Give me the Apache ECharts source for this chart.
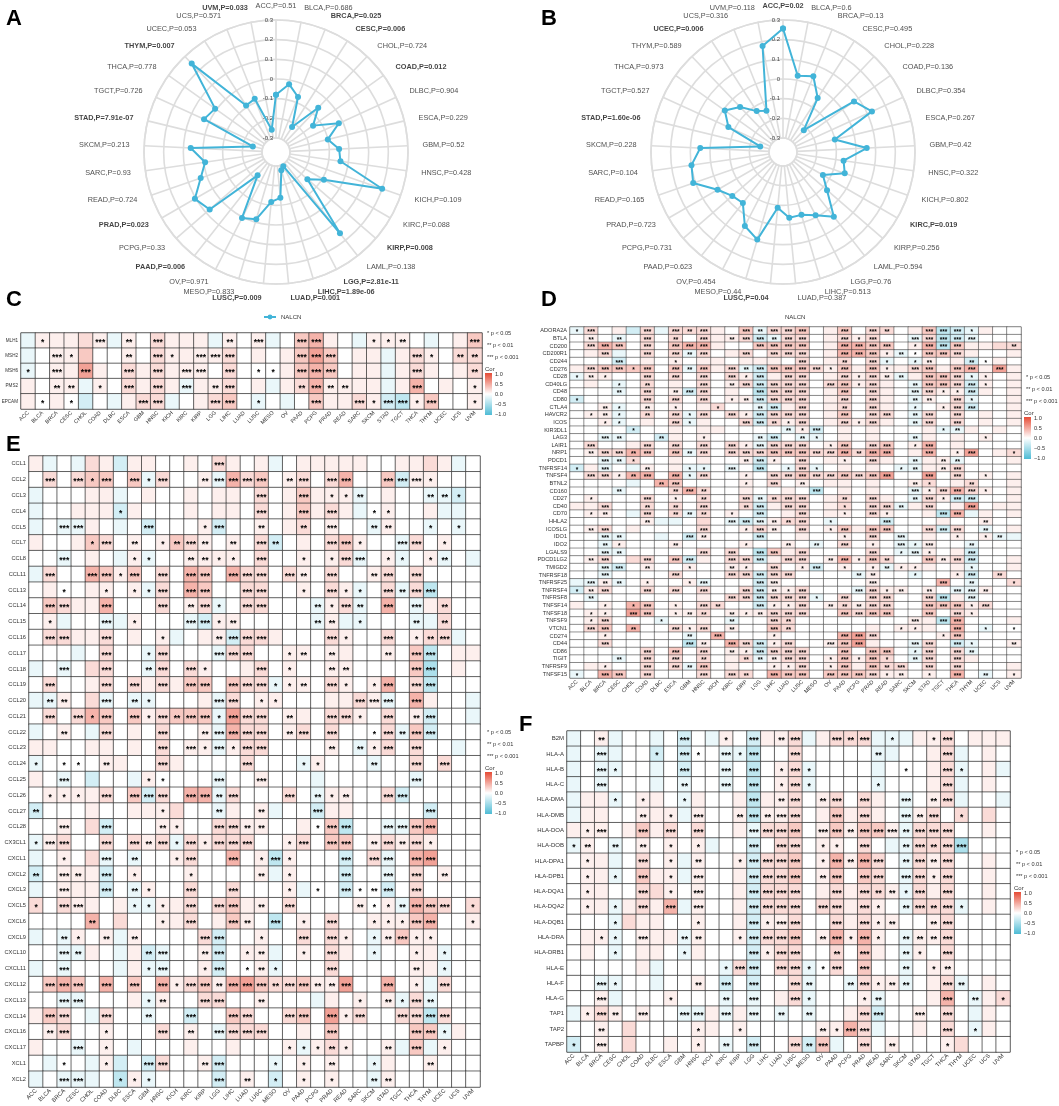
<!DOCTYPE html>
<html>
<head>
<meta charset="utf-8">
<script src="https://cdn.jsdelivr.net/npm/echarts@6/dist/echarts.min.js"></script>
<style>
html, body { margin: 0; padding: 0; background: #fff; }
#main { width: 1059px; height: 1106px; }
</style>
</head>
<body>
<div id="main"></div>
<script>
const FONT = "'Liberation Sans', Arial, sans-serif";
const LINE = '#42B4D8';

// ---- A / B : NALCN radar (33 cancer types) ----
const radarTypes = ['ACC','BLCA','BRCA','CESC','CHOL','COAD','DLBC','ESCA','GBM','HNSC','KICH','KIRC','KIRP','LAML','LGG','LIHC','LUAD','LUSC','MESO','OV','PAAD','PCPG','PRAD','READ','SARC','SKCM','STAD','TGCT','THCA','THYM','UCEC','UCS','UVM'];
const nalcnA = [-0.08,-0.02,-0.07,-0.22,-0.06,-0.14,-0.02,-0.10,-0.05,-0.04,0.20,-0.09,-0.16,0.155,-0.29,-0.275,-0.137,-0.116,-0.015,0.006,-0.22,0.075,0.105,0.034,-0.007,0.063,-0.25,0.031,0.009,0.25,-0.09,-0.08,-0.256];
const pA = ['0.51','0.686','0.025','0.006','0.724','0.012','0.904','0.229','0.52','0.428','0.109','0.088','0.008','0.138','2.81e-11','1.89e-06','0.001','0.009','0.833','0.971','0.006','0.33','0.023','0.724','0.93','0.213','7.91e-07','0.726','0.778','0.007','0.053','0.571','0.033'];
const nalcnB = [0.257,0.024,0.044,-0.045,-0.218,0.072,0.126,-0.10,0.055,-0.06,-0.039,-0.137,-0.075,0.047,-0.01,-0.038,-0.035,-0.086,0.093,0.052,-0.041,-0.03,0.013,0.112,0.099,0.05,-0.252,-0.066,-0.008,-0.055,-0.124,-0.145,0.178];
const pB = ['0.02','0.6','0.13','0.495','0.228','0.136','0.354','0.267','0.42','0.322','0.802','0.019','0.256','0.594','0.76','0.513','0.387','0.04','0.44','0.454','0.623','0.731','0.723','0.165','0.104','0.228','1.60e-06','0.527','0.973','0.589','0.006','0.316','0.118'];
const radialTicks = [-0.3, 0.3, 0.1];

// ---- C-F : correlation heatmaps (32 cancer types) ----
const cancers = ['ACC','BLCA','BRCA','CESC','CHOL','COAD','DLBC','ESCA','GBM','HNSC','KICH','KIRC','KIRP','LGG','LIHC','LUAD','LUSC','MESO','OV','PAAD','PCPG','PRAD','READ','SARC','SKCM','STAD','TGCT','THCA','THYM','UCEC','UCS','UVM'];
// cell codes: 0 none, 1..5 positive steps, a..d negative steps ; stars: number of asterisks
const corLevel = {'0':0,'1':0.09,'2':0.2,'3':0.3,'4':0.42,'5':0.52,'a':-0.12,'b':-0.25,'c':-0.36,'d':-0.46};

const genesC = ['MLH1','MSH2','MSH6','PMS2','EPCAM'];
const corC = [
  'a11121a1 02111a10 1a03410a 1110a013',
  'a0113001 02111120 10135301 1a121022',
  'a0115102 12111020 00134301 1a121012',
  '1011a102 121a1120 1a124111 1a140101',
  '1010b0a1 22a01230 a0a03112 1bc13001'
];
const starC = [
  '01000302 03000020 30033000 11200003',
  '00310002 03103330 00033300 00031022',
  '10303003 03033030 11033300 00030002',
  '00220103 03030230 00023220 00030001',
  '01010000 33000330 10003003 13313001'
];

const genesD = ['ADORA2A','BTLA','CD200','CD200R1','CD244','CD276','CD28','CD40LG','CD48','CD80','CTLA4','HAVCR2','ICOS','KIR3DL1','LAG3','LAIR1','NRP1','PDCD1','TNFRSF14','TNFSF4','BTNL2','CD160','CD27','CD40','CD70','HHLA2','ICOSLG','IDO1','IDO2','LGALS9','PDCD1LG2','TMIGD2','TNFRSF18','TNFRSF25','TNFRSF4','TNFRSF8','TNFSF14','TNFSF18','TNFSF9','VTCN1','CD274','CD44','CD86','TIGIT','TNFRSF9','TNFSF15'];
const corD = [
  'a201b2a2 22103a22 30130220 13cba100',
  '010a0202 02112ba2 20121200 a2cba000',
  '02430203 44100333 30144330 14c31122',
  '012a0202 a2012022 2014431a 03321001',
  '000b0101 01101110 201202a0 a101b010',
  '12333303 a312ab33 32131311 23134151',
  'a1100202 02021b12 2012121a 1332a101',
  '010a0201 02012b22 20231210 a332b101',
  '000a0201 b2010c22 20130210 a211b101',
  'b0000202 02011b22 20120210 a102a001',
  '001a0101 01200ab1 20120210 a012b001',
  '011a0202 a2021b22 20130220 a2020101',
  '001a0102 a1002b21 20121210 a2020101',
  '0000b001 0110000a 1b010100 01aa1010',
  '00aa00b1 01000ab0 aa010100 a1010100',
  '02001202 02021a22 20130230 14010000',
  '01224303 a2022233 32242440 14015012',
  '00aa2001 01001b10 20110210 a11a0001',
  'b1a0a101 aa0a0c0a 2a01010a a1120000',
  '02214404 a2001022 32232350 05020101',
  '0000a043 00001020 10110100 12012001',
  '000a0002 42001001 0c010100 a1242101',
  '01000201 02002a22 20120210 a21bb001',
  '11200202 02002b12 2012022a 12015011',
  '0110a202 a2010b01 20110210 01c4a101',
  '000001aa 020aba12 20a000b0 00100100',
  '01201000 02001210 20131330 02b20a01',
  '00aa00a0 b1000b00 1001020a 010101aa',
  '00a10001 00001001 0a02010a a100a000',
  '00aa0000 02020c31 2000020a a101b000',
  '01202203 b1022b12 20141320 0312b001',
  '00ab0100 10011020 1b0101a1 1101a001',
  '00a00002 00022b22 0000a100 a001b020',
  'aa1a0100 1a000b10 00000100 0040a002',
  'b1200202 02002b11 2000a211 010aa100',
  '0a000000 01022b22 2a020220 02c1a000',
  '10104301 02200b11 20121220 03331200',
  '01105301 12011122 20032330 03021000',
  '012000a0 010a0022 00000000 11c40001',
  '02304002 12010032 00000101 11040a00',
  '00100000 a0400010 00045200 00130000',
  '00200000 c1042b12 00135100 a20ba001',
  '00000203 02011b22 20030330 a202a000',
  '000a0202 02012a12 20131320 a2021000',
  '01100202 a3010011 20131322 02020001',
  'a0430200 02022043 30333211 01040a01'
];
const starD = [
  '13000303 23003233 30030320 03331000',
  '02020302 03023323 30031300 33333000',
  '03330303 33000333 30033330 13330002',
  '00300303 23003033 30033312 13330000',
  '00030001 00000000 30020310 12002100',
  '03331303 23032333 33130310 33033030',
  '12100303 03031303 30031322 03331100',
  '00010200 03023333 30331300 23333100',
  '00020302 33000333 30030300 33113000',
  '10000303 03012333 30030300 22031000',
  '00210201 00100230 30020300 10133000',
  '01210203 13031333 30030330 23030000',
  '00110003 10003321 30031300 23030000',
  '00001000 00000002 13000000 00120000',
  '00320020 01000230 21000000 20000100',
  '03000303 03031333 30130330 13000000',
  '02332303 23033333 33332330 03013001',
  '00321000 00002310 30010300 20220000',
  '10300200 11030301 31000001 20230000',
  '03312303 13001033 33333330 03030100',
  '00000023 00001030 20000000 21002000',
  '00020002 32000000 03000000 31333100',
  '01000301 02003223 30020300 23133000',
  '00300202 03002303 30010332 03003000',
  '01200302 22010300 30010310 00330000',
  '00000200 00033322 30100030 00000200',
  '02300000 03001320 30130330 03330200',
  '00320000 32000300 00010303 00010120',
  '00210002 00001002 02030103 13002000',
  '00320000 03030330 30000301 31003000',
  '02300303 30033303 30231320 03233000',
  '00330200 10021030 13010121 10001000',
  '00300003 00033333 00002200 10013020',
  '03220100 13000330 00000300 00302001',
  '12300303 03003321 30003312 02033200',
  '02000000 00033333 31030330 03303000',
  '00101301 03200311 30222330 03331300',
  '01103301 22021233 30033330 03031000',
  '01300010 00020032 00000000 30330000',
  '03302003 13020032 00000001 10030101',
  '00100000 20300010 00033300 00130000',
  '00300000 32033313 00333000 33031002',
  '00000303 03021333 30030330 13032000',
  '00020303 02002223 30131310 23030000',
  '00100303 23000011 30130323 03030000',
  '10330300 03032033 30333312 01030201'
];

const genesE = ['CCL1','CCL2','CCL3','CCL4','CCL5','CCL7','CCL8','CCL11','CCL13','CCL14','CCL15','CCL16','CCL17','CCL18','CCL19','CCL20','CCL21','CCL22','CCL23','CCL24','CCL25','CCL26','CCL27','CCL28','CX3CL1','CXCL1','CXCL2','CXCL3','CXCL5','CXCL6','CXCL9','CXCL10','CXCL11','CXCL12','CXCL13','CXCL14','CXCL16','CXCL17','XCL1','XCL2'];
const corE = [
  '1a0a21b1 10010210 1a011111 001121a0',
  '02023303 a2001a42 30120240 03b11000',
  'a00011a0 10010110 2013111a 0100aab0',
  'a00111b1 00010110 2013121a 01001aa0',
  'a0aa10a0 b0001b00 10120100 a100a0a0',
  '10013201 01321010 2b010231 00a20100',
  '00a010a1 a0011110 2001012a 01a01a0a',
  'a2004313 02043042 20210200 12020000',
  '01001101 a2043002 2001021a 02a2c000',
  '03211400 02012a02 2000a12a 040a1200',
  '01a00aa1 000ab110 0000a1aa 000aa200',
  '02211201 01a011b2 21000210 020122a0',
  '000a0200 a2000a22 00110110 0103c011',
  'a0a02200 a2021001 20100110 0003d010',
  '02001202 12133032 2a110210 1402c000',
  'aa102a0a a0001a20 11000112 1a04100a',
  '02024303 12333a52 20110221 0201b00a',
  'a010a201 02001a42 20120200 02a3b000',
  '11001101 02011a12 2000010a 120200a0',
  'a0000110 02100002 000a1000 a0020200',
  '10a0b00a 10000a00 1000a000 000a0000',
  '01111203 b2044a20 0020a110 02b00000',
  'b0001001 11200a10 1a00b110 0000b000',
  '00102b00 01100221 100103c0 0aa34000',
  'a1200202 12a21222 00120330 12121000',
  'a0102a0a 00120040 1c1000b0 2a045000',
  'b0111b01 00010000 1a1000b0 0a020100',
  'a0111b0a 10020020 001a00b0 0b020000',
  '2021101a a1120231 10200001 01a43202',
  '00004020 01120131 0c010200 11134001',
  'a0a101a1 00002b00 10020210 a1311000',
  '00aa10a1 ba001b01 1a010210 a0011a00',
  'a0a000a1 aa001b00 1a000200 00011a00',
  '03430403 04123145 32231150 0401a200',
  '00aa0001 a1002200 1000a101 01a2a000',
  '1320a200 a00b0032 00230512 0022c200',
  '01200100 02010a22 20010300 00033a10',
  '100a010a 00010010 001a1210 01a3a100',
  '0a00a1b0 b2001b00 0a010100 a1001000',
  'a0aaa0c1 a0000b01 0b010100 a1000000'
];
const starE = [
  '00000000 00000300 00000000 00000000',
  '03031303 13002333 30230330 03331000',
  '00000000 00000000 30030112 00002210',
  '00000010 00000000 30030300 11000000',
  '00330000 30001300 20020300 22001010',
  '00001302 01232020 32000331 00330100',
  '00300001 10022110 30010133 01101200',
  '03003313 03033033 30320300 23030000',
  '00100101 13033003 30010311 03233000',
  '03300300 03023103 30002132 03030200',
  '01000301 00033120 00002201 00020200',
  '03300300 01000233 30000310 03012300',
  '00000300 13000333 00120200 02033000',
  '00300300 23031000 30100220 00033000',
  '03000303 03033033 31120310 13033000',
  '02200302 10000330 11000003 33030000',
  '03031303 13233133 30200331 03023000',
  '00200300 03002333 30230300 13233000',
  '00000000 03031313 30000202 13030000',
  '10110200 03000003 00011000 20030300',
  '00300000 11000300 30000000 00030000',
  '01110303 33033230 00302120 03300000',
  '20000000 01000200 20003000 00003000',
  '00300300 02100332 20001330 03333000',
  '13300303 23131333 00130330 23231000',
  '00100302 00130030 13100030 33033000',
  '20320301 00010000 20100030 03030200',
  '00300302 10030030 00101031 23030000',
  '10330001 11030330 20300002 11233301',
  '00002000 01030032 03010300 11133001',
  '00210202 00003300 10030310 12311000',
  '00320000 23002301 20010300 10010100',
  '00300000 13001301 21000300 00020100',
  '03330303 03133233 32332230 03010300',
  '00330000 12003300 20000001 02132000',
  '03300300 20030033 00330313 00333300',
  '02300100 03020333 30000300 00033100',
  '00030100 00000000 00111210 02030100',
  '00100100 33002300 01010200 10002000',
  '00330011 10000302 01010100 22000000'
];

const genesF = ['B2M','HLA-A','HLA-B','HLA-C','HLA-DMA','HLA-DMB','HLA-DOA','HLA-DOB','HLA-DPA1','HLA-DPB1','HLA-DQA1','HLA-DQA2','HLA-DQB1','HLA-DRA','HLA-DRB1','HLA-E','HLA-F','HLA-G','TAP1','TAP2','TAPBP'];
const corF = [
  'a01a00a0 b0a10b11 2a1222aa a1120111',
  'a0aa00b0 b00aac00 200000aa 0012a010',
  'a0aa00a0 b00a0c01 2a0000a0 0012a01a',
  'a0a000a0 a00a0c01 2a0000a0 0012a010',
  'a11a0110 a1001c11 20120210 a012a00a',
  'a1100111 a1001c11 20131210 a1202020',
  '11101312 02001a22 30131331 a2220010',
  'a10a0101 01a00b02 2011020a a222d000',
  '011a0201 a1001b22 30141420 a2120010',
  '011a0311 a1001b22 30130320 a2120010',
  '01100221 01001b22 20121221 a2120010',
  '011a1214 a1001b22 20221210 a222a010',
  '000a2110 01001b11 20021211 00120000',
  '011a0111 a1001b22 30141410 a1120000',
  '010a0110 a1000b12 20020310 a1020000',
  '000001a0 000a2b02 2a020300 a0110000',
  '00aa00a0 010b0b00 2a00a211 a012a010',
  '001a0001 000a0a01 2a0001a0 00140a12',
  'a1210100 aa1a1a0a 0a0012b0 01020a10',
  '00102000 01101000 001142a0 01020a10',
  'b0102001 010a0b00 2b3a0201 00012000'
];
const starF = [
  '00200000 30010302 30032301 00130000',
  '00300010 31031300 30000020 00030000',
  '00310000 30030301 31000000 10031000',
  '00300000 20030301 31000010 00030000',
  '00010100 10000302 30230300 30230000',
  '00000201 03002323 30030300 32301000',
  '01300303 03000333 30332333 23330000',
  '12020201 01000303 30110300 23233000',
  '01000301 02001333 30132330 23230000',
  '01010301 03000333 30230330 33130000',
  '01000301 03000333 30030322 13030000',
  '01010303 03000333 30330310 23231000',
  '00010000 01000313 30030312 00230000',
  '00110300 22001333 30231310 22230000',
  '00010000 10000313 30020300 21030000',
  '00000000 00013303 31130300 20120000',
  '00310000 02030300 32002312 20032000',
  '00300001 00020300 31000120 00030201',
  '01320300 33030302 02000330 03030000',
  '00200000 01001000 00213300 00030100',
  '10300000 01020300 32300302 00010000'
];
const corTicks = ['1.0', '0.5', '0.0', '\u22120.5', '\u22121.0'];

function cells(cor, star) {
  const out = [];
  cor.forEach(function (row, r) {
    const c = row.replace(/ /g, ''), s = star[r].replace(/ /g, '');
    for (let i = 0; i < cancers.length; i++) {
      const v = corLevel[c[i]];
      out.push([i, r, v === undefined ? 0 : v, '*'.repeat(+s[i] || 0)]);
    }
  });
  return out;
}

function closeLoop(vals) {
  return vals.map(function (v, i) { return [v, i]; }).concat([[vals[0], vals.length]]);
}

// type labels sit just outside the outer ring (radius in axis units)
const labelR = 0.372;
function radarLabels(pvals, polarIndex) {
  return {
    type: 'scatter', coordinateSystem: 'polar', polarIndex: polarIndex, clip: false, silent: true,
    symbolSize: 1, itemStyle: { color: 'rgba(0,0,0,0)' },
    data: radarTypes.map(function (t, i) {
      const ang = i * 360 / radarTypes.length;
      const sig = parseFloat(pvals[i]) < 0.05;
      return {
        value: [labelR, i],
        label: { position: i === 0 ? 'inside' : (ang < 180 ? 'right' : 'left'),
          fontWeight: sig ? 'bold' : 'normal', color: sig ? '#111' : '#222' }
      };
    }),
    label: { show: true, distance: 0, fontSize: 7.3, fontFamily: FONT,
      formatter: function (q) { return radarTypes[q.dataIndex] + ',P=' + pvals[q.dataIndex]; } }
  };
}

const chart = echarts.init(document.getElementById('main'));

const panels = [
  { genes: genesC, cor: corC, star: starC, left: 21, top: 333, width: 461, height: 76, yFont: 4.6, xFont: 5.5, starFont: 8.5 },
  { genes: genesD, cor: corD, star: starD, left: 570, top: 327, width: 451, height: 351, yFont: 5.6, xFont: 5.5, starFont: 6.5 },
  { genes: genesE, cor: corE, star: starE, left: 29, top: 456, width: 451, height: 631, yFont: 5.7, xFont: 5.8, starFont: 8.5 },
  { genes: genesF, cor: corF, star: starF, left: 567, top: 731, width: 443, height: 321, yFont: 6, xFont: 5.8, starFont: 8.5 }
];

const angleAxes = [0, 1].map(function (i) {
  return {
    polarIndex: i, type: 'value', min: 0, max: radarTypes.length, interval: 1,
    startAngle: 90, clockwise: true,
    axisLine: { lineStyle: { color: '#dddddd', width: 1.6 } },
    axisTick: { show: false },
    splitLine: { lineStyle: { color: '#dddddd', width: 1.6 } },
    axisLabel: { show: false }
  };
});

const radiusAxes = [0, 1].map(function (i) {
  return {
    polarIndex: i, type: 'value', min: radialTicks[0], max: radialTicks[1], interval: radialTicks[2],
    axisLine: { show: false }, axisTick: { show: false },
    splitLine: { lineStyle: { color: '#dddddd', width: 1.6 } },
    axisLabel: { fontSize: 6, color: '#444', margin: 3,
      formatter: function (v) { return String(Math.round(v * 10) / 10); } }
  };
});

const series = [
  { type: 'line', name: 'NALCN', coordinateSystem: 'polar', polarIndex: 0, data: closeLoop(nalcnA),
    symbol: 'circle', symbolSize: 6, lineStyle: { width: 2, color: LINE }, itemStyle: { color: LINE }, silent: true },
  { type: 'line', name: 'NALCN', coordinateSystem: 'polar', polarIndex: 1, data: closeLoop(nalcnB),
    symbol: 'circle', symbolSize: 6, lineStyle: { width: 2, color: LINE }, itemStyle: { color: LINE }, silent: true },
  radarLabels(pA, 0),
  radarLabels(pB, 1)
];

const heatStart = series.length;
panels.forEach(function (p, i) {
  series.push({
    type: 'heatmap', xAxisIndex: i, yAxisIndex: i, data: cells(p.cor, p.star),
    itemStyle: { borderColor: '#2e2e2e', borderWidth: i === 1 ? 0.5 : 0.7 },
    label: { show: true, formatter: function (q) { return q.data[3]; },
      fontSize: p.starFont, fontWeight: 'bold', color: '#000', offset: [0, p.starFont * 0.25] },
    emphasis: { disabled: true }, silent: true
  });
});

// significance + colour-bar legends
function sigLegend(x, y) {
  const els = [];
  ['* p < 0.05', '** p < 0.01', '*** p < 0.001'].forEach(function (t, k) {
    els.push({ type: 'text', x: x + 2, y: y + k * 12,
      style: { text: t, fontSize: 5.6, fontFamily: FONT, fill: '#333', verticalAlign: 'middle' } });
  });
  els.push({ type: 'text', x: x, y: y + 36,
    style: { text: 'Cor', fontSize: 6, fontFamily: FONT, fill: '#333', verticalAlign: 'middle' } });
  els.push({ type: 'rect', shape: { x: x, y: y + 40, width: 7, height: 42 },
    style: { fill: { type: 'linear', x: 0, y: 0, x2: 0, y2: 1,
      colorStops: [{ offset: 0, color: '#E64B35' }, { offset: 0.5, color: '#FFFFFF' }, { offset: 1, color: '#4DBBD5' }] } } });
  corTicks.forEach(function (t, k) {
    els.push({ type: 'text', x: x + 10, y: y + 41 + k * 10,
      style: { text: t, fontSize: 5.6, fontFamily: FONT, fill: '#333', verticalAlign: 'middle' } });
  });
  return els;
}

const letters = [['A', 6, 8], ['B', 541, 8], ['C', 6, 289], ['D', 541, 289], ['E', 6, 434], ['F', 519, 714]];
const graphics = letters.map(function (l) {
  return { type: 'text', x: l[1], y: l[2],
    style: { text: l[0], fontSize: 22, fontWeight: 'bold', fontFamily: FONT, fill: '#000' } };
}).concat(sigLegend(485, 333), sigLegend(1024, 377), sigLegend(485, 732), sigLegend(1014, 852));

const option = {
  animation: false,
  backgroundColor: '#fff',
  textStyle: { fontFamily: FONT },
  polar: [
    { center: [276, 152], radius: [14, 132] },
    { center: [783, 152], radius: [14, 132] }
  ],
  angleAxis: angleAxes,
  radiusAxis: radiusAxes,
  legend: [
    { left: 258, top: 309, itemWidth: 12, itemHeight: 6, itemGap: 4, selectedMode: false,
      textStyle: { fontSize: 6, color: '#333' }, data: ['NALCN'] },
    { left: 762, top: 309, itemWidth: 12, itemHeight: 6, selectedMode: false,
      textStyle: { fontSize: 6, color: '#333' },
      data: [{ name: 'NALCN', itemStyle: { opacity: 0 }, lineStyle: { opacity: 0 } }] }
  ],
  grid: panels.map(function (p) {
    return { left: p.left, top: p.top, width: p.width, height: p.height,
      show: true, borderColor: '#9a9a9a', borderWidth: 1, outerBoundsMode: 'none' };
  }),
  xAxis: panels.map(function (p, i) {
    return { type: 'category', gridIndex: i, data: cancers, position: 'bottom',
      axisLine: { show: false }, axisTick: { show: false }, splitLine: { show: false },
      axisLabel: { rotate: 45, interval: 0, fontSize: p.xFont, color: '#333', margin: 3 } };
  }),
  yAxis: panels.map(function (p, i) {
    return { type: 'category', gridIndex: i, data: p.genes, inverse: true,
      axisLine: { show: false }, axisTick: { show: false }, splitLine: { show: false },
      axisLabel: { interval: 0, fontSize: p.yFont, color: '#333', margin: 3 } };
  }),
  visualMap: {
    type: 'continuous', show: false, min: -1, max: 1, dimension: 2,
    seriesIndex: panels.map(function (p, i) { return heatStart + i; }),
    inRange: { color: ['#4DBBD5', '#FFFFFF', '#E64B35'] }
  },
  graphic: graphics,
  series: series
};

chart.setOption(option);
</script>
</body>
</html>
